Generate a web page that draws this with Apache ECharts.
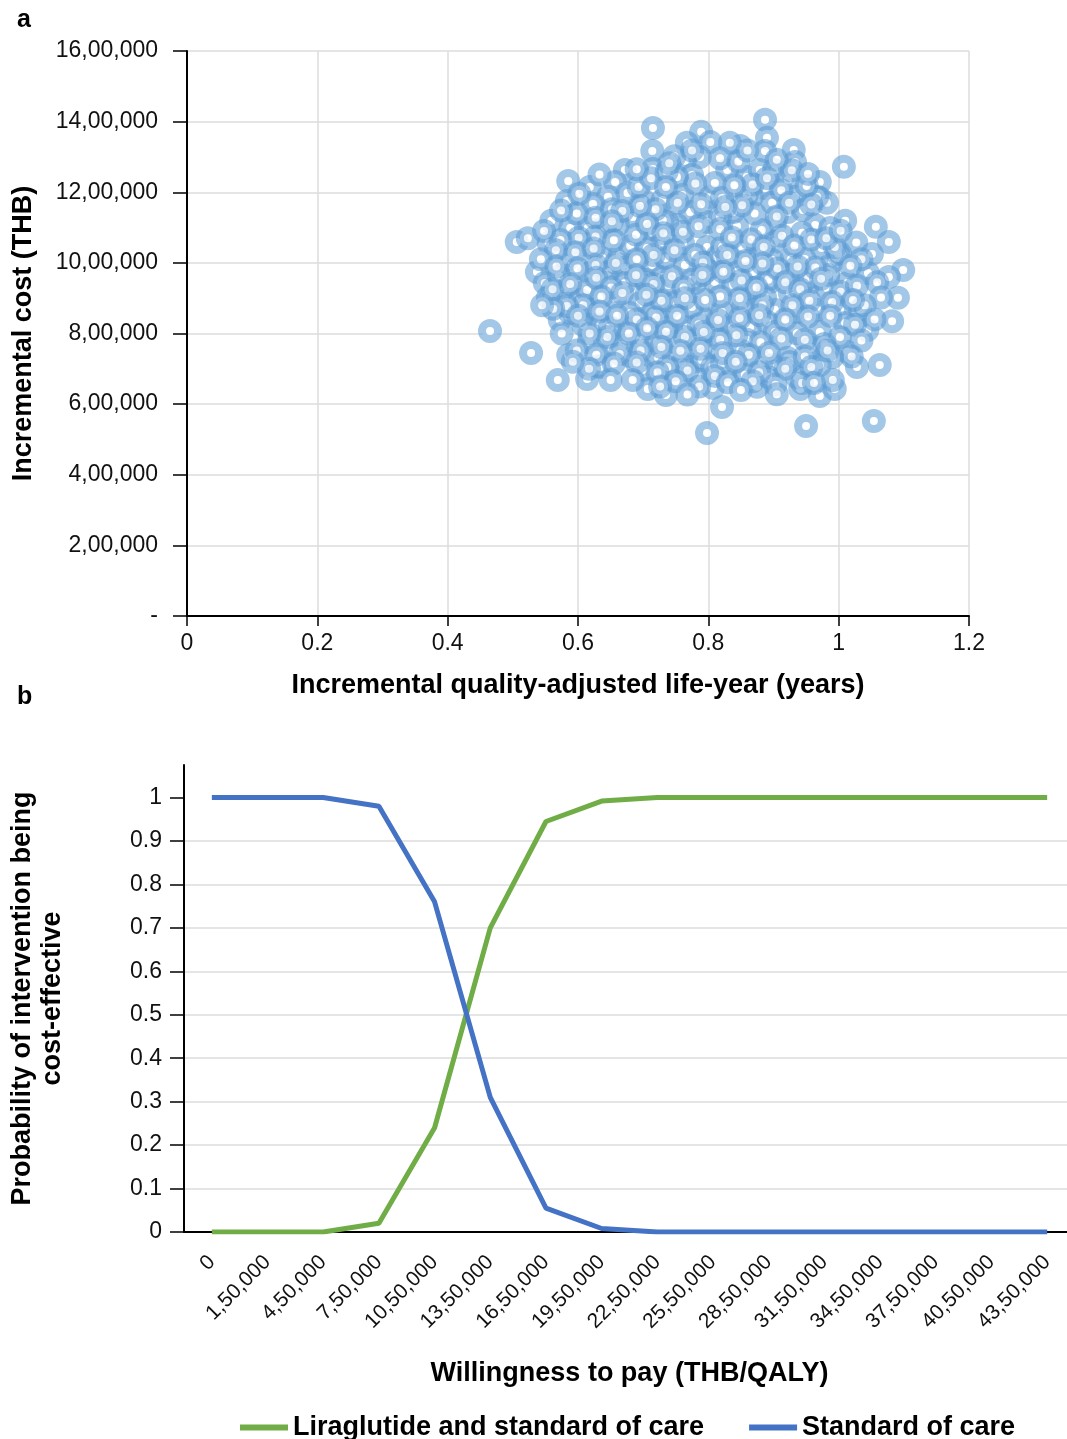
<!DOCTYPE html>
<html lang="en">
<head>
    <meta charset="UTF-8">
    <title>PSA scatter and CEAC</title>
    <style>
        html, body { margin: 0; padding: 0; background: #fff; }
        #main { width: 1067px; height: 1439px; }
    </style>
</head>
<body>
    <div id="main"></div>
    <script src="https://cdn.jsdelivr.net/npm/echarts@6/dist/echarts.min.js"></script>
    <script>
        // panel a: incremental QALY vs incremental cost (THB)
        var psaPoints = [
            [0.465,807000],[0.506,1059000],[0.523,1070000],[0.528,745000],[0.537,974000],[0.549,943000],[0.554,903000],[0.555,1056000],[0.559,1119000],[0.569,668000],
            [0.572,838000],[0.585,739000],[0.585,1232000],[0.583,1175000],[0.614,671000],[0.631,708000],[0.715,1382000],[0.714,1317000],[0.715,1266000],[0.672,1263000],
            [0.789,1371000],[0.767,1340000],[0.887,1405000],[0.890,1354000],[1.008,1272000],[1.010,1119000],[1.057,1102000],[1.077,1059000],[1.051,1025000],[1.099,980000],
            [1.091,901000],[1.082,835000],[1.063,711000],[1.054,552000],[0.950,538000],[0.798,518000],[0.821,592000],[0.735,626000],[0.707,643000],[0.971,623000],
            [0.994,643000],[0.941,643000],[1.028,705000],[1.077,960000],[0.990,1003000],[1.002,1028000],[0.971,1229000],[0.971,1184000],[0.931,1320000],[0.933,1286000],
            [0.982,1170000],[0.887,1317000],[0.849,1331000],[0.833,1340000],
            [0.803,1342000],[0.829,1263000],[0.787,1300000],[0.764,1289000],[0.775,1249000],[0.752,1243000],[0.859,1243000],[0.879,1263000],[0.901,1263000],[0.922,1235000],
            [0.887,1212000],[0.867,1187000],[0.898,1170000],[0.933,1187000],[0.967,1187000],[0.922,1144000],[0.945,1150000],[0.964,1107000],[0.944,1085000],[0.902,1107000],
            [0.882,1093000],[0.844,1104000],[0.803,1187000],[0.838,1144000],[0.772,1144000],[0.760,1192000],[0.799,1116000],[0.752,1107000],[0.852,1045000],[0.879,1022000],
            [0.902,1059000],[0.927,1011000],[0.948,1011000],[0.974,1042000],[0.999,1025000],[0.798,1045000],[0.761,1056000],[0.737,1116000],[0.764,994000],[0.807,1000000],
            [0.844,974000],[0.869,974000],[0.922,966000],
            [0.657,1229000],[0.618,1215000],[0.646,1187000],[0.623,1167000],[0.700,1178000],[0.730,1178000],[0.684,1130000],[0.661,1107000],[0.641,1102000],[0.615,1099000],
            [0.588,1099000],[0.611,1051000],[0.637,1014000],[0.664,1022000],[0.680,1048000],[0.714,1085000],[0.583,1008000],[0.618,971000],[0.646,974000],[0.672,986000],
            [0.714,994000],[0.729,960000],
            [0.652,756000],[0.680,736000],[0.700,697000],[0.617,776000],[0.655,813000],[0.588,858000],[0.621,867000],[0.580,929000],[0.603,895000],[0.614,923000],
            [0.644,943000],[0.657,901000],[0.672,943000],[0.695,886000],[0.714,858000],[0.721,918000],[0.680,858000],[0.695,782000],[0.721,776000],[0.723,731000],
            [0.706,943000],[0.608,824000],[0.634,824000],
            [0.738,937000],[0.780,943000],[0.810,946000],[0.838,937000],[0.867,929000],[0.895,946000],[0.956,943000],[0.982,929000],[1.013,943000],[1.045,971000],
            [1.033,867000],[1.002,867000],[0.967,867000],[0.936,861000],[0.902,867000],[0.869,867000],[0.821,861000],[0.790,847000],[0.741,875000],[0.738,818000],
            [0.767,818000],[0.807,804000],[0.836,818000],[0.864,818000],[0.890,833000],[0.902,804000],[0.936,801000],[0.971,804000],[1.010,830000],[1.044,810000],
            [1.013,748000],[0.990,733000],[0.971,711000],[0.958,759000],[0.921,731000],[0.899,711000],[0.859,782000],[0.830,697000],[0.807,753000],[0.780,782000],
            [0.772,705000],[0.746,697000],[0.783,677000],[0.807,646000],[0.856,683000],[0.875,649000],[0.936,677000],[0.944,660000],[0.760,716000],
            [0.810,1226000],[0.730,1121000],[0.726,1051000],[0.706,1042000],[0.734,1014000],[0.780,1022000],[0.813,1017000],[0.799,980000],[0.703,952000],[0.775,952000],
            [0.821,1184000],[0.859,1192000],[0.818,1130000],[0.987,1099000],[0.821,1045000],[0.994,1045000],[0.898,1008000],[0.892,952000],[0.953,957000],[0.984,966000],
            [0.749,889000],[0.775,875000],[0.649,818000],[0.749,776000],[0.790,725000],[0.634,705000],[0.737,705000],[0.806,705000],[0.668,767000],
            [0.887,903000],[0.925,915000],[0.853,875000],[0.849,753000],[0.882,719000],[0.925,719000],[0.821,716000],[0.892,677000],[0.991,668000],
            // denser core, read from the crowded middle of the cloud
            [0.598,1140000],[0.627,1128000],[0.652,1152000],[0.676,1198000],[0.693,1215000],[0.712,1240000],[0.736,1258000],[0.748,1302000],[0.818,1296000],[0.846,1287000],
            [0.868,1222000],[0.912,1206000],[0.951,1218000],[0.958,1165000],[0.924,1170000],[0.905,1131000],[0.871,1140000],[0.852,1163000],[0.826,1158000],[0.789,1166000],
            [0.753,1170000],[0.719,1152000],[0.695,1161000],[0.668,1147000],[0.652,1118000],[0.627,1075000],[0.601,1071000],[0.573,1065000],[0.566,1036000],[0.596,1030000],
            [0.624,1041000],[0.655,1064000],[0.689,1080000],[0.706,1110000],[0.731,1084000],[0.761,1088000],[0.785,1104000],[0.818,1096000],[0.836,1072000],[0.866,1066000],
            [0.885,1045000],[0.913,1077000],[0.932,1049000],[0.958,1066000],[0.981,1070000],[1.003,1091000],[1.027,1058000],[1.035,1010000],[1.018,992000],[0.964,987000],
            [0.937,990000],[0.906,984000],[0.883,998000],[0.857,1005000],[0.829,1022000],[0.792,1001000],[0.748,1036000],[0.716,1022000],[0.690,1010000],[0.658,1000000],
            [0.627,994000],[0.599,985000],[0.571,963000],[0.561,925000],[0.588,940000],[0.628,958000],[0.651,930000],[0.689,965000],[0.716,940000],[0.744,962000],
            [0.762,930000],[0.791,966000],[0.823,975000],[0.851,950000],[0.874,930000],[0.918,945000],[0.941,925000],[0.973,955000],[1.003,918000],[1.028,935000],
            [1.059,945000],[1.065,902000],[1.040,880000],[1.022,895000],[0.990,889000],[0.955,893000],[0.929,880000],[0.883,880000],[0.848,900000],[0.818,905000],
            [0.795,895000],[0.764,900000],[0.728,893000],[0.705,910000],[0.668,915000],[0.636,905000],[0.608,880000],[0.583,878000],[0.562,870000],[0.600,850000],
            [0.633,862000],[0.660,850000],[0.690,840000],[0.720,845000],[0.752,850000],[0.785,826000],[0.815,838000],[0.848,843000],[0.878,852000],[0.918,840000],
            [0.953,848000],[0.987,850000],[1.025,825000],[1.055,840000],[1.035,780000],[1.002,790000],[0.978,770000],[0.948,782000],[0.912,786000],[0.880,775000],
            [0.843,795000],[0.818,782000],[0.793,804000],[0.764,790000],[0.735,805000],[0.706,815000],[0.678,800000],[0.645,790000],[0.618,800000],[0.598,752000],
            [0.628,740000],[0.664,742000],[0.696,752000],[0.728,762000],[0.757,751000],[0.788,757000],[0.822,745000],[0.862,740000],[0.893,745000],[0.948,735000],
            [0.983,752000],[1.020,735000],[0.958,705000],[0.918,700000],[0.878,690000],[0.842,720000],[0.810,680000],[0.768,695000],[0.722,690000],[0.690,718000],
            [0.655,715000],[0.617,700000],[0.650,668000],[0.684,668000],[0.750,665000],[0.786,650000],[0.830,662000],[0.868,665000],[0.903,655000],[0.962,660000],
            [0.726,650000],[0.768,627000],[0.850,640000],[0.905,628000],[0.633,1250000],[0.690,1265000],[0.735,1215000],[0.780,1225000],[0.840,1220000],[0.890,1240000],
            [0.928,1262000],[0.953,1252000],[0.905,1292000],[0.860,1318000],[0.775,1318000],[0.740,1282000],[0.602,1196000],[0.574,1148000],[0.548,1090000],[0.543,1010000],
            [0.567,990000],[0.545,880000],[0.575,800000],[0.592,720000]
        ];

        // panel b: acceptability curve
        var wtpLabels = ['0', '1,50,000', '4,50,000', '7,50,000', '10,50,000', '13,50,000', '16,50,000', '19,50,000',
            '22,50,000', '25,50,000', '28,50,000', '31,50,000', '34,50,000', '37,50,000', '40,50,000', '43,50,000'];
        var liraglutide = [0, 0, 0, 0.02, 0.24, 0.70, 0.945, 0.992, 1, 1, 1, 1, 1, 1, 1, 1];
        var standardCare = [1, 1, 1, 0.98, 0.76, 0.31, 0.055, 0.008, 0, 0, 0, 0, 0, 0, 0, 0];
        var probTicks = [0, 0.1, 0.2, 0.3, 0.4, 0.5, 0.6, 0.7, 0.8, 0.9, 1];

        var FONT = '"Liberation Sans", Arial, sans-serif';

        // 1600000 -> 16,00,000 ; 0 -> "-"
        function indianFmt(v) {
            if (v === 0) return '-';
            var s = String(Math.round(v));
            var last3 = s.slice(-3);
            var rest = s.slice(0, -3);
            if (rest) rest = rest.replace(/\B(?=(\d{2})+(?!\d))/g, ',') + ',';
            return rest + last3;
        }

        var nameStyle = { fontFamily: FONT, fontSize: 27, fontWeight: 'bold', color: '#000' };

        var myChart = echarts.init(document.getElementById('main'), null, { renderer: 'canvas' });
        var option = {
            animation: false,
            backgroundColor: '#fff',
            textStyle: { fontFamily: FONT },
            title: [
                { text: 'a', left: 12, top: 3, textStyle: { fontFamily: FONT, fontSize: 25, fontWeight: 'bold', color: '#000' } },
                { text: 'b', left: 12, top: 680, textStyle: { fontFamily: FONT, fontSize: 25, fontWeight: 'bold', color: '#000' } }
            ],
            legend: {
                data: ['Liraglutide and standard of care', 'Standard of care'],
                left: 235,
                top: 1409,
                icon: 'rect',
                itemWidth: 48,
                itemHeight: 6,
                itemGap: 45,
                selectedMode: false,
                textStyle: { fontFamily: FONT, fontSize: 27, fontWeight: 'bold', color: '#000' }
            },
            grid: [
                { left: 187, top: 51, width: 782, height: 565, outerBoundsMode: 'none' },
                { left: 184, top: 765, width: 891, height: 467, outerBoundsMode: 'none' }
            ],
            xAxis: [
                {
                    gridIndex: 0,
                    type: 'value',
                    min: 0, max: 1.2, interval: 0.2,
                    name: 'Incremental quality-adjusted life-year (years)',
                    nameLocation: 'middle',
                    nameGap: 56,
                    nameTextStyle: nameStyle,
                    axisLine: { lineStyle: { color: '#000', width: 2 } },
                    axisTick: { length: 10, lineStyle: { color: '#000', width: 1.5 } },
                    axisLabel: { fontSize: 23, margin: 16, color: '#111' },
                    splitLine: { show: true, lineStyle: { color: '#dcdcdc', width: 1.5 } }
                },
                {
                    gridIndex: 1,
                    type: 'category',
                    data: wtpLabels,
                    boundaryGap: true,
                    name: 'Willingness to pay (THB/QALY)',
                    nameLocation: 'middle',
                    nameGap: 128,
                    nameTextStyle: nameStyle,
                    axisLine: { lineStyle: { color: '#000', width: 2 } },
                    axisTick: { show: false },
                    axisLabel: { interval: 0, rotate: 45, fontSize: 21, margin: 27, color: '#111' },
                    splitLine: { show: false }
                }
            ],
            yAxis: [
                {
                    gridIndex: 0,
                    type: 'value',
                    min: 0, max: 1600000, interval: 200000,
                    name: 'Incremental cost (THB)',
                    nameLocation: 'middle',
                    nameGap: 150,
                    nameTextStyle: nameStyle,
                    axisLine: { show: true, lineStyle: { color: '#000', width: 2 } },
                    axisTick: { show: true, length: 14, lineStyle: { color: '#000', width: 1.5 } },
                    axisLabel: { fontSize: 23, margin: 29, color: '#111', formatter: indianFmt },
                    splitLine: { show: true, lineStyle: { color: '#dcdcdc', width: 1.5 } }
                },
                {
                    gridIndex: 1,
                    type: 'value',
                    min: 0, max: 1.075,
                    name: 'Probability of intervention being\ncost-effective',
                    nameLocation: 'middle',
                    nameGap: 116,
                    nameTextStyle: { fontFamily: FONT, fontSize: 27, fontWeight: 'bold', color: '#000', lineHeight: 30 },
                    axisLine: { show: true, lineStyle: { color: '#000', width: 2 } },
                    axisTick: { show: true, length: 14, customValues: probTicks, lineStyle: { color: '#000', width: 1.5 } },
                    axisLabel: { fontSize: 23, margin: 22, color: '#111', customValues: probTicks },
                    splitLine: { show: true, showMaxLine: false, lineStyle: { color: '#dcdcdc', width: 1.5 } }
                }
            ],
            series: [
                {
                    type: 'scatter',
                    xAxisIndex: 0,
                    yAxisIndex: 0,
                    data: psaPoints,
                    symbol: 'circle',
                    symbolSize: 16,
                    silent: true,
                    itemStyle: {
                        color: '#ffffff',
                        borderColor: 'rgba(91,155,213,0.7)',
                        borderWidth: 8
                    }
                },
                {
                    name: 'Liraglutide and standard of care',
                    type: 'line',
                    xAxisIndex: 1,
                    yAxisIndex: 1,
                    data: liraglutide,
                    symbol: 'none',
                    color: '#70ad47',
                    lineStyle: { width: 5, color: '#70ad47' }
                },
                {
                    name: 'Standard of care',
                    type: 'line',
                    xAxisIndex: 1,
                    yAxisIndex: 1,
                    data: standardCare,
                    symbol: 'none',
                    color: '#4472c4',
                    lineStyle: { width: 5, color: '#4472c4' }
                }
            ]
        };
        myChart.setOption(option);
    </script>
</body>
</html>
